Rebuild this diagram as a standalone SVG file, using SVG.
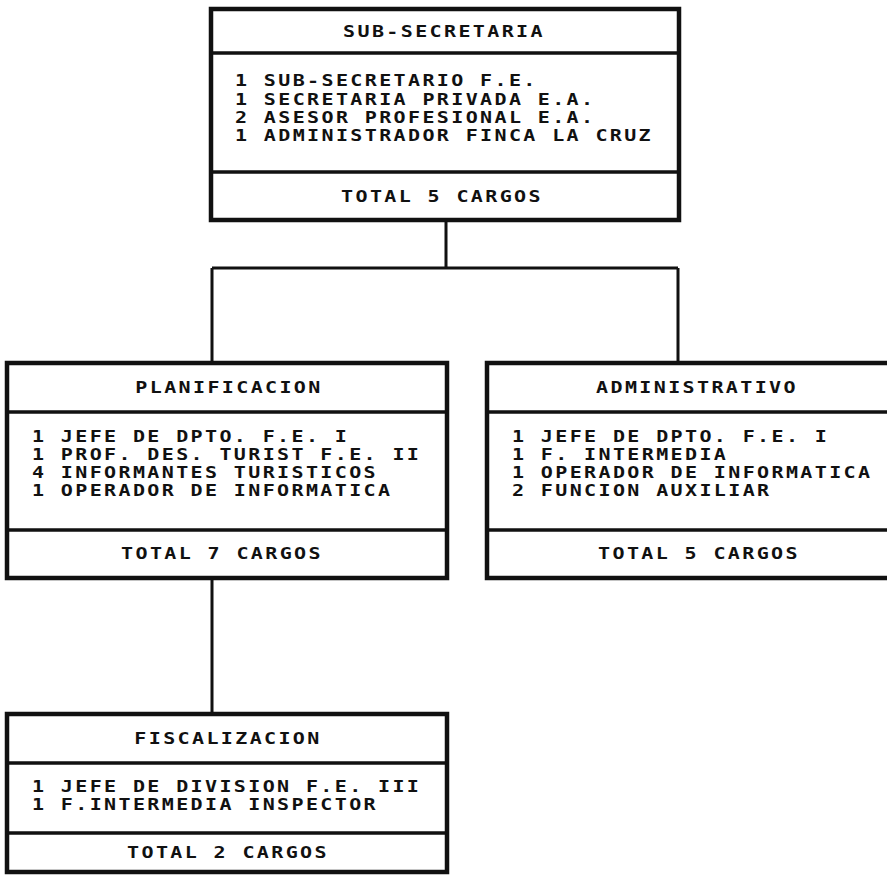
<svg xmlns="http://www.w3.org/2000/svg" width="887" height="882" viewBox="0 0 887 882">
<style>
.bg{fill:#ffffff}
.box{fill:#ffffff;stroke:#111111;stroke-width:4.5}
.div{stroke:#111111;stroke-width:3.5;fill:none}
.con{stroke:#111111;stroke-width:3;fill:none}
text{font-family:"DejaVu Sans Mono","Liberation Mono",monospace;font-weight:bold;font-size:16px;letter-spacing:1.9px;fill:#111111}
.c{text-anchor:middle}
</style>
<rect class="bg" x="0" y="0" width="887" height="882"/>
<g id="connectors">
<path class="con" d="M446 220 V268 M212 268 H678 M212 268 V363 M678 268 V363 M212 578 V714"/>
</g>
<g id="sub-secretaria">
<rect class="box" x="211" y="9" width="468" height="211"/>
<line class="div" x1="211" y1="53" x2="679" y2="53"/>
<line class="div" x1="211" y1="172" x2="679" y2="172"/>
<text class="c" transform="matrix(1.25 0 0 1 444 37)">SUB-SECRETARIA</text>
<text transform="matrix(1.25 0 0 1 235 86)">1 SUB-SECRETARIO F.E.</text>
<text transform="matrix(1.25 0 0 1 235 104.5)">1 SECRETARIA PRIVADA E.A.</text>
<text transform="matrix(1.25 0 0 1 235 122.5)">2 ASESOR PROFESIONAL E.A.</text>
<text transform="matrix(1.25 0 0 1 235 141)">1 ADMINISTRADOR FINCA LA CRUZ</text>
<text class="c" transform="matrix(1.25 0 0 1 442 202)">TOTAL 5 CARGOS</text>
</g>
<g id="planificacion">
<rect class="box" x="7" y="363" width="440" height="215"/>
<line class="div" x1="7" y1="412" x2="447" y2="412"/>
<line class="div" x1="7" y1="530" x2="447" y2="530"/>
<text class="c" transform="matrix(1.25 0 0 1 229 393)">PLANIFICACION</text>
<text transform="matrix(1.25 0 0 1 32 441.5)">1 JEFE DE DPTO. F.E. I</text>
<text transform="matrix(1.25 0 0 1 32 459.5)">1 PROF. DES. TURIST F.E. II</text>
<text transform="matrix(1.25 0 0 1 32 477.5)">4 INFORMANTES TURISTICOS</text>
<text transform="matrix(1.25 0 0 1 32 495.5)">1 OPERADOR DE INFORMATICA</text>
<text class="c" transform="matrix(1.25 0 0 1 222 559)">TOTAL 7 CARGOS</text>
</g>
<g id="administrativo">
<rect class="box" x="487" y="363" width="420" height="215"/>
<line class="div" x1="487" y1="412" x2="907" y2="412"/>
<line class="div" x1="487" y1="530" x2="907" y2="530"/>
<text class="c" transform="matrix(1.25 0 0 1 697 393)">ADMINISTRATIVO</text>
<text transform="matrix(1.25 0 0 1 512 441.5)">1 JEFE DE DPTO. F.E. I</text>
<text transform="matrix(1.25 0 0 1 512 459.5)">1 F. INTERMEDIA</text>
<text transform="matrix(1.25 0 0 1 512 477.5)">1 OPERADOR DE INFORMATICA</text>
<text transform="matrix(1.25 0 0 1 512 495.5)">2 FUNCION AUXILIAR</text>
<text class="c" transform="matrix(1.25 0 0 1 699 559)">TOTAL 5 CARGOS</text>
</g>
<g id="fiscalizacion">
<rect class="box" x="7" y="714" width="440" height="158"/>
<line class="div" x1="7" y1="763" x2="447" y2="763"/>
<line class="div" x1="7" y1="833" x2="447" y2="833"/>
<text class="c" transform="matrix(1.25 0 0 1 228 744)">FISCALIZACION</text>
<text transform="matrix(1.25 0 0 1 32 791.5)">1 JEFE DE DIVISION F.E. III</text>
<text transform="matrix(1.25 0 0 1 32 809.5)">1 F.INTERMEDIA INSPECTOR</text>
<text class="c" transform="matrix(1.25 0 0 1 228 858)">TOTAL 2 CARGOS</text>
</g>
</svg>
